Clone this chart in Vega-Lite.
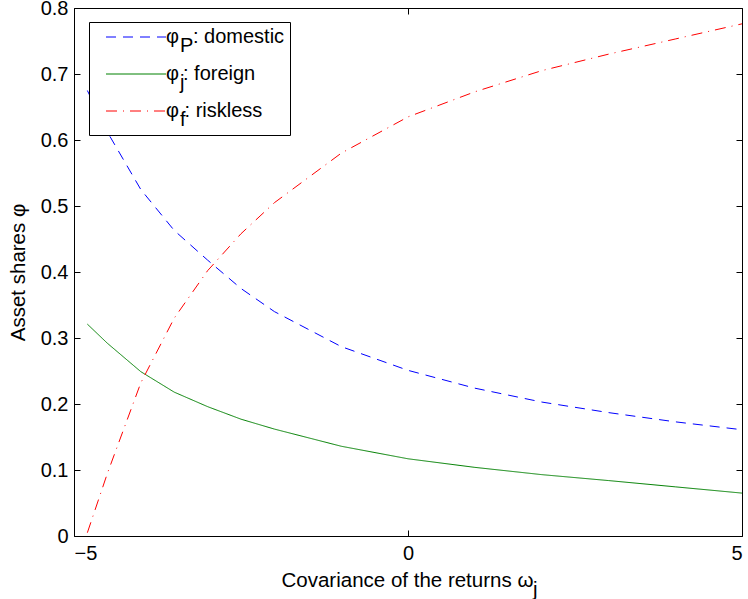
{
  "$schema": "https://vega.github.io/schema/vega-lite/v6.json",
  "width": 668,
  "height": 528,
  "autosize": "none",
  "padding": {"left": 74, "top": 8, "right": 6, "bottom": 63},
  "background": "white",
  "config": {
    "view": {"stroke": "black", "strokeWidth": 1},
    "font": "Liberation Sans",
    "style": {"guide-label": {"lineHeight": 9}},
    "axis": {
      "grid": false,
      "domain": false,
      "tickColor": "black",
      "tickSize": -6,
      "tickWidth": 1,
      "labelColor": "black",
      "labelFont": "Liberation Sans",
      "labelFontSize": 20,
      "titleFont": "Liberation Sans",
      "titleFontSize": 20.5,
      "titleColor": "black",
      "titleFontWeight": "normal"
    }
  },
  "data": {
    "values": [
      {"x": -4.8, "s": "domestic", "v": 0.675}, {"x": -4.5, "s": "domestic", "v": 0.612}, {"x": -4, "s": "domestic", "v": 0.525}, {"x": -3.5, "s": "domestic", "v": 0.463}, {"x": -3, "s": "domestic", "v": 0.418}, {"x": -2.5, "s": "domestic", "v": 0.375}, {"x": -2, "s": "domestic", "v": 0.34}, {"x": -1, "s": "domestic", "v": 0.287}, {"x": 0, "s": "domestic", "v": 0.251}, {"x": 1, "s": "domestic", "v": 0.224}, {"x": 2, "s": "domestic", "v": 0.203}, {"x": 3, "s": "domestic", "v": 0.187}, {"x": 4, "s": "domestic", "v": 0.173}, {"x": 5, "s": "domestic", "v": 0.161},
      {"x": -4.8, "s": "foreign", "v": 0.321}, {"x": -4.5, "s": "foreign", "v": 0.292}, {"x": -4, "s": "foreign", "v": 0.249}, {"x": -3.5, "s": "foreign", "v": 0.218}, {"x": -3, "s": "foreign", "v": 0.196}, {"x": -2.5, "s": "foreign", "v": 0.177}, {"x": -2, "s": "foreign", "v": 0.162}, {"x": -1, "s": "foreign", "v": 0.136}, {"x": 0, "s": "foreign", "v": 0.117}, {"x": 1, "s": "foreign", "v": 0.104}, {"x": 2, "s": "foreign", "v": 0.093}, {"x": 3, "s": "foreign", "v": 0.084}, {"x": 4, "s": "foreign", "v": 0.0745}, {"x": 5, "s": "foreign", "v": 0.065},
      {"x": -4.8, "s": "riskless", "v": 0.005}, {"x": -4.5, "s": "riskless", "v": 0.095}, {"x": -4, "s": "riskless", "v": 0.232}, {"x": -3.5, "s": "riskless", "v": 0.33}, {"x": -3, "s": "riskless", "v": 0.402}, {"x": -2.5, "s": "riskless", "v": 0.458}, {"x": -2, "s": "riskless", "v": 0.505}, {"x": -1, "s": "riskless", "v": 0.58}, {"x": 0, "s": "riskless", "v": 0.635}, {"x": 1, "s": "riskless", "v": 0.673}, {"x": 2, "s": "riskless", "v": 0.705}, {"x": 3, "s": "riskless", "v": 0.73}, {"x": 4, "s": "riskless", "v": 0.753}, {"x": 5, "s": "riskless", "v": 0.776}
    ]
  },
  "layer": [
    {
      "mark": {"type": "line", "strokeWidth": 1},
      "encoding": {
        "x": {
          "field": "x", "type": "quantitative",
          "scale": {"domain": [-5, 5], "nice": false, "zero": false},
          "axis": {
            "values": [-5, 0, 5], "format": "d", "labelPadding": 13,
            "title": ["Covariance of the returns ω\u2009\u200d", "j"],
            "titleAlign": "right", "titleBaseline": "top", "titleLineHeight": 9,
            "titleX": 463, "titleY": 34
          }
        },
        "y": {
          "field": "v", "type": "quantitative",
          "scale": {"domain": [0, 0.8], "nice": false, "zero": false},
          "axis": {
            "values": [0, 0.1, 0.2, 0.3, 0.4, 0.5, 0.6, 0.7, 0.8], "format": ".1~f", "labelPadding": 12,
            "title": "Asset shares φ", "titleAngle": -90, "titleBaseline": "alphabetic", "titleAlign": "center",
            "titleX": -50, "titleY": 264
          }
        },
        "color": {
          "field": "s", "type": "nominal",
          "scale": {"domain": ["domestic", "foreign", "riskless"], "range": ["#0000ff", "#008000", "#ff0000"]},
          "legend": {
            "orient": "none", "legendX": 15, "legendY": 14, "title": null,
            "fillColor": "white", "strokeColor": "black", "padding": 5, "rowPadding": 8,
            "symbolType": "M-6,0H6", "symbolSize": 100, "symbolStrokeWidth": 1,
            "symbolOffset": 32, "labelOffset": 20, "labelFontSize": 20, "labelLimit": 0, "labelColor": "black",
            "labelExpr": "datum.value == 'domestic' ? ['φ\u2002\u2009: domestic', '\u200d\u2002\u2009P'] : datum.value == 'foreign' ? ['φ\u2009: foreign', '\u200d\u2002\u2009j'] : ['φ\u00a0: riskless', '\u200d\u2002\u2009f']",
            "encode": {"symbols": {"update": {"strokeDash": {"scale": "strokeDash", "field": "value"}}}}
          }
        },
        "strokeDash": {
          "field": "s", "type": "nominal",
          "scale": {"domain": ["domestic", "foreign", "riskless"], "range": [[10, 7], [1, 0], [11, 6, 1, 6]]},
          "legend": null
        }
      }
    },
    {
      "mark": {"type": "point", "opacity": 0},
      "encoding": {
        "x": {
          "field": "x", "type": "quantitative",
          "scale": {"domain": [-5, 5], "nice": false, "zero": false},
          "axis": {"orient": "top", "values": [-5, 0, 5], "labels": false, "title": null}
        },
        "y": {
          "field": "v", "type": "quantitative",
          "scale": {"domain": [0, 0.8], "nice": false, "zero": false},
          "axis": {"orient": "right", "values": [0, 0.1, 0.2, 0.3, 0.4, 0.5, 0.6, 0.7, 0.8], "labels": false, "title": null}
        }
      }
    }
  ],
  "resolve": {"axis": {"x": "independent", "y": "independent"}}
}
